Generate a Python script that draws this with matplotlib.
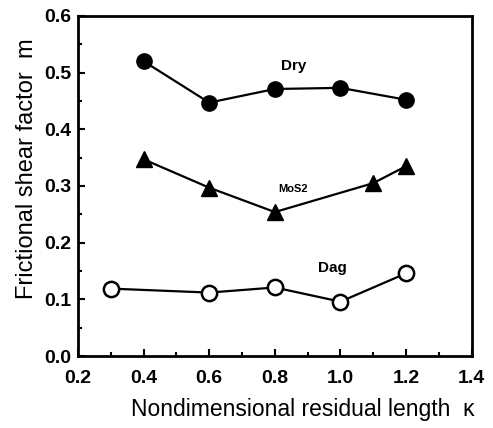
import matplotlib
matplotlib.use("Agg")
import matplotlib.pyplot as plt
from matplotlib.ticker import MultipleLocator

plt.rcParams['font.family'] = ['Liberation Sans', 'DejaVu Sans']

# data
x_dry = [0.4, 0.6, 0.8, 1.0, 1.2]
m_dry = [0.52, 0.447, 0.471, 0.473, 0.452]
x_mos2 = [0.4, 0.6, 0.8, 1.1, 1.2]
m_mos2 = [0.347, 0.297, 0.254, 0.305, 0.335]
x_dag = [0.3, 0.6, 0.8, 1.0, 1.2]
m_dag = [0.119, 0.112, 0.121, 0.096, 0.146]

fig = plt.figure(figsize=(4.93, 4.28), dpi=100)
ax = fig.add_axes([0.158, 0.168, 0.799, 0.795])

ax.plot(x_dry, m_dry, '-o', color='black', lw=1.6, ms=11)
ax.plot(x_mos2, m_mos2, '-^', color='black', lw=1.6, ms=11)
ax.plot(x_dag, m_dag, '-o', color='black', mfc='white', mew=1.8, lw=1.6, ms=11)

ax.text(0.82, 0.505, 'Dry', fontsize=11, fontweight='bold')
ax.text(0.81, 0.29, 'MoS2', fontsize=8, fontweight='bold')
ax.text(0.93, 0.148, 'Dag', fontsize=11, fontweight='bold')

ax.set_xlim(0.2, 1.4)
ax.set_ylim(0.0, 0.6)
ax.xaxis.set_major_locator(MultipleLocator(0.2))
ax.xaxis.set_minor_locator(MultipleLocator(0.1))
ax.yaxis.set_major_locator(MultipleLocator(0.1))
ax.yaxis.set_minor_locator(MultipleLocator(0.05))
ax.tick_params(which='both', direction='in', width=1.5)
ax.tick_params(which='major', length=5, labelsize=14)
ax.tick_params(which='minor', length=3)
ax.tick_params(axis='x', pad=10)
ax.tick_params(axis='y', pad=5)
ax.set_xticks(ax.get_xticks())
ax.set_xticklabels(['%.1f' % v for v in ax.get_xticks()], fontweight='bold')
ax.set_yticks(ax.get_yticks())
ax.set_yticklabels(['%.1f' % v for v in ax.get_yticks()], fontweight='bold')
ax.set_xlim(0.2, 1.4)
ax.set_ylim(0.0, 0.6)
for s in ax.spines.values():
    s.set_linewidth(2)

ax.set_xlabel('Nondimensional residual length  \u03ba', fontsize=16.5, labelpad=8)
ax.xaxis.label.set_x(0.57)
ax.set_ylabel('Frictional shear factor  m', fontsize=17, labelpad=4)
ax.yaxis.label.set_y(0.55)

fig.savefig('out.png', dpi=100)
